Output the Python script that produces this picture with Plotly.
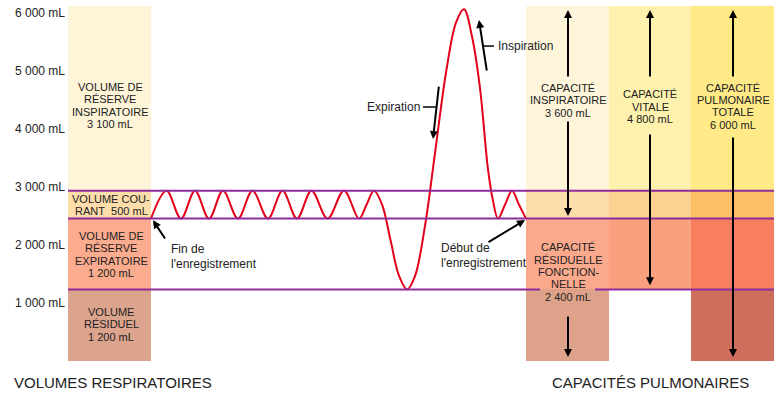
import plotly.graph_objects as go

FONT = "Liberation Sans, Arial, Helvetica, sans-serif"
TXT = "#222222"
PURPLE = "#8E2C9C"
RED = "#E2001A"

# ---- axis ticks ----
tick_vals = [1000, 2000, 3000, 4000, 5000, 6000]
tick_text = ["1 000 mL", "2 000 mL", "3 000 mL", "4 000 mL", "5 000 mL", "6 000 mL"]

# ---- volume levels (mL): RV top, ERV top, tidal top, IRV top ----
levels = [0, 1230, 2450, 2930, 6110]

# ---- columns: centre, width, segment colours (RV, ERV, tidal, IRV) ----
col_names = ["volumes", "CI", "CV", "CPT"]
col_x = [109.5, 567.5, 650, 732.5]
col_w = [83, 83, 82, 83]
col_colors = [
    ["#DCA38D", "#FBAB8E", "#FDDDA9", "#FEF5D9"],
    ["#DEA28B", "#FBA98D", "#FDDEAB", "#FEF5DA"],
    ["rgba(0,0,0,0)", "#F9A07F", "#FDD291", "#FEF1AE"],
    ["#CF6E5C", "#F77E5E", "#FDBF66", "#FFEA87"],
]

# ---- spirogram trace (time units = px along the chart, volume in mL) ----
curve_t = [151, 166.5, 181, 195, 209, 223, 238, 252.5, 268, 282.5, 297, 311.5, 327.5, 344,
           359, 366.5, 374, 382, 390.5, 399, 407, 415, 425, 435.5, 446, 456, 464,
           472, 480, 488, 493, 498, 505, 512, 519, 526]
curve_v = [2450, 2930, 2450, 2930, 2450, 2930, 2450, 2930, 2450, 2930, 2450, 2930, 2450, 2930,
           2450, 2690, 2930, 2695, 2080, 1465, 1230, 1460, 2325, 3645, 4964, 5830, 6060,
           5590, 4700, 3300, 2760, 2450, 2690, 2930, 2690, 2450]

fig = go.Figure()

# stacked column segments
for ci in range(len(col_names)):
    for si in range(4):
        fig.add_trace(go.Bar(
            x=[col_x[ci]], y=[levels[si + 1] - levels[si]], base=[levels[si]],
            width=[col_w[ci]], marker=dict(color=col_colors[ci][si], line=dict(width=0)),
            showlegend=False, hoverinfo="skip"))

# purple boundary lines
line_x0, line_x1 = 68, 774
shapes = []
for lv in levels[2:4]:
    shapes.append(dict(type="line", xref="x", yref="y", x0=line_x0, x1=line_x1, y0=lv, y1=lv,
                       line=dict(color=PURPLE, width=2)))
# RV line interrupted by the "NELLE" text
for (a, b) in [(line_x0, 540), (595, line_x1)]:
    shapes.append(dict(type="line", xref="x", yref="y", x0=a, x1=b, y0=levels[1], y1=levels[1],
                       line=dict(color=PURPLE, width=2)))
# leader dashes for Expiration / Inspiration
shapes.append(dict(type="line", xref="x", yref="y", x0=423, x1=436, y0=4374, y1=4374,
                   line=dict(color="black", width=1.5)))
shapes.append(dict(type="line", xref="x", yref="y", x0=483, x1=494, y0=5425, y1=5425,
                   line=dict(color="black", width=1.5)))

fig.add_trace(go.Scatter(x=curve_t, y=curve_v, mode="lines",
                         line=dict(color=RED, width=2, shape="spline", smoothing=1.0),
                         showlegend=False, hoverinfo="skip"))

annotations = []


def block(x, y_first, lines, size=11, xanchor="center", sp=215):
    for i, t in enumerate(lines):
        annotations.append(dict(x=x, y=y_first - i * sp, xref="x", yref="y", text=t,
                                showarrow=False, xanchor=xanchor, yanchor="middle",
                                font=dict(family=FONT, size=size, color=TXT)))


block(110, 4719, ["VOLUME DE", "RÉSERVE", "INSPIRATOIRE", "3 100 mL"])
block(111, 2788, ["VOLUME COU-", "RANT\u00a0 500 mL"])
block(111, 2150, ["VOLUME DE", "RÉSERVE", "EXPIRATOIRE", "1 200 mL"])
block(111, 840, ["VOLUME", "RÉSIDUEL", "1 200 mL"])
block(568, 4702, ["CAPACITÉ", "INSPIRATOIRE", "3 600 mL"])
block(650, 4590, ["CAPACITÉ", "VITALE", "4 800 mL"])
block(733, 4710, ["CAPACITÉ", "PULMONAIRE", "TOTALE", "6 000 mL"])
block(568, 1960, ["CAPACITÉ", "RÉSIDUELLE", "FONCTION-", "NELLE", "2 400 mL"])

block(169, 1926, ["Fin de", "l'enregistrement"], size=12, xanchor="left", sp=250)
block(439, 1943, ["Début de", "l'enregistrement"], size=12, xanchor="left", sp=250)
block(422, 4374, ["Expiration"], size=12, xanchor="right")
block(496, 5425, ["Inspiration"], size=12, xanchor="left")

# section titles (paper coordinates: plot area spans px 66..784)
annotations.append(dict(x=(12 - 66) / 718, y=-384, xref="paper", yref="y",
                        text="VOLUMES RESPIRATOIRES",
                        showarrow=False, xanchor="left", yanchor="middle",
                        font=dict(family=FONT, size=15, color=TXT)))
annotations.append(dict(x=650, y=-384, xref="x", yref="y", text="CAPACITÉS PULMONAIRES",
                        showarrow=False, xanchor="center", yanchor="middle",
                        font=dict(family=FONT, size=15, color=TXT)))


def arrow(x_tail, y_tail, x_tip, y_tip, width=2):
    annotations.append(dict(x=x_tip, y=y_tip, ax=x_tail, ay=y_tail, xref="x", yref="y",
                            axref="x", ayref="y", text="", showarrow=True, arrowhead=2,
                            arrowsize=0.8, arrowwidth=width, arrowcolor="black",
                            standoff=0, startstandoff=0))


# pointers
arrow(166, 2080, 153, 2420)
arrow(487, 2029, 525, 2426)
arrow(439, 4753, 433, 3822)
arrow(487, 4978, 479, 5874)
# capacity arrows
arrow(568, 4874, 568, 6047)
arrow(568, 4148, 568, 2495)
arrow(568, 790, 568, 64)
arrow(650, 4874, 650, 6047)
arrow(650, 3924, 650, 1300)
arrow(733, 4874, 733, 6047)
arrow(733, 3874, 733, 64)

fig.update_layout(
    width=784, height=399,
    margin=dict(l=66, r=0, t=0, b=0, autoexpand=False),
    paper_bgcolor="white", plot_bgcolor="white",
    barmode="overlay", bargap=0,
    shapes=shapes, annotations=annotations,
    xaxis=dict(range=[66, 784], visible=False, fixedrange=True, automargin=False),
    yaxis=dict(range=[-660, 6219], tickvals=tick_vals, ticktext=tick_text,
               showgrid=False, zeroline=False, showline=False, ticks="",
               automargin=False,
               tickfont=dict(family=FONT, size=12, color=TXT), fixedrange=True),
    showlegend=False,
)

fig.write_html("out.html", config={"displayModeBar": False},
               post_script="document.body.style.margin='0';document.body.style.overflow='hidden';")
